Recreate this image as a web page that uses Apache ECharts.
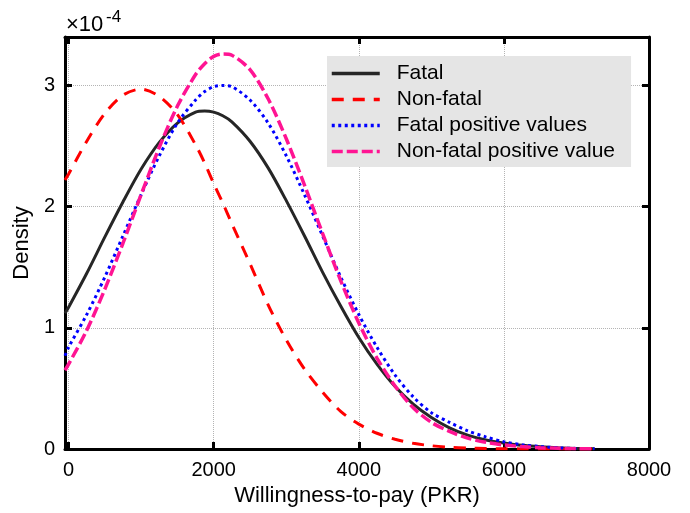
<!DOCTYPE html>
<html>
<head>
<meta charset="utf-8">
<script src="https://cdn.jsdelivr.net/npm/echarts@6/dist/echarts.min.js"></script>
<style>
  html, body { margin: 0; padding: 0; background: #fff; }
  #chart { width: 690px; height: 513px; }
</style>
</head>
<body>
<div id="chart"></div>
<script>
// willingness-to-pay (PKR) sample points
const wtp = [-50, 0, 250, 500, 750, 1000, 1250, 1500, 1750, 1875, 2000, 2125, 2250, 2500, 2750, 3000, 3250,
  3500, 3750, 4000, 4250, 4500, 4750, 5000, 5250, 5500, 5750, 6000, 6250, 6500, 6750, 7000, 7250];

// density values, in units of 1e-4
const fatal = [1.12, 1.17, 1.45, 1.75, 2.04, 2.31, 2.53, 2.69, 2.78, 2.79, 2.78, 2.75, 2.70, 2.54, 2.32, 2.05, 1.76,
  1.46, 1.18, 0.92, 0.70, 0.515, 0.37, 0.26, 0.175, 0.115, 0.075, 0.05, 0.03, 0.018, 0.01, 0.005, 0.002];
const nonFatal = [2.22, 2.27, 2.54, 2.77, 2.92, 2.97, 2.91, 2.76, 2.51, 2.36, 2.19, 2.03, 1.86, 1.53, 1.19, 0.90, 0.66,
  0.47, 0.31, 0.205, 0.13, 0.08, 0.047, 0.027, 0.015, 0.008, 0.004, 0.002, 0.001, 0.0005, 0, 0, 0];
const fatalPos = [0.77, 0.84, 1.11, 1.42, 1.76, 2.10, 2.42, 2.69, 2.88, 2.95, 2.99, 3.00, 2.99, 2.88, 2.69, 2.42, 2.10,
  1.76, 1.42, 1.11, 0.84, 0.61, 0.43, 0.30, 0.22, 0.15, 0.10, 0.06, 0.035, 0.02, 0.01, 0.005, 0.002];
const nonFatalPos = [0.65, 0.70, 0.98, 1.32, 1.70, 2.10, 2.49, 2.83, 3.09, 3.18, 3.24, 3.26, 3.25, 3.13, 2.89, 2.56, 2.18,
  1.78, 1.39, 1.04, 0.75, 0.52, 0.34, 0.22, 0.145, 0.09, 0.055, 0.033, 0.02, 0.011, 0.006, 0.003, 0.001];

const seriesNames = ['Fatal', 'Non-fatal', 'Fatal positive values', 'Non-fatal positive value'];
const xTicks = [0, 2000, 4000, 6000, 8000];
const yTicks = [0, 1, 2, 3];

const font = 'Liberation Sans, Arial, Helvetica, sans-serif';
const pairs = (ys) => wtp.map((x, i) => [x, ys[i]]);

const chart = echarts.init(document.getElementById('chart'));

const frameAxis = {
  axisLine: { show: true, onZero: false, lineStyle: { color: '#000', width: 3 } },
  axisTick: { show: true, inside: true, length: 7, lineStyle: { color: '#000', width: 3 } }
};

const option = {
  animation: false,
  backgroundColor: '#fff',
  grid: { left: 65, right: 41, top: 37, bottom: 64, containLabel: false },
  legend: {
    orient: 'vertical',
    left: 327,
    top: 56,
    padding: [7, 16, 5, 3],
    backgroundColor: '#e5e5e5',
    itemWidth: 48,
    itemHeight: 19,
    itemGap: 5,
    itemStyle: { opacity: 0 },
    lineStyle: { width: 3.5 },
    data: seriesNames,
    textStyle: { fontFamily: font, fontSize: 21, color: '#000', padding: [0, 0, 0, 12] }
  },
  graphic: [
    { type: 'text', left: 66, top: 14, style: { text: '×10', font: '22px ' + font, fill: '#000' } },
    { type: 'text', left: 106, top: 9, style: { text: '-4', font: '17px ' + font, fill: '#000' } }
  ],
  xAxis: [
    Object.assign({}, frameAxis, {
      type: 'value',
      min: -50,
      max: 8000,
      splitNumber: 4,
      name: 'Willingness-to-pay (PKR)',
      nameLocation: 'middle',
      nameGap: 35,
      nameTextStyle: { fontFamily: font, fontSize: 22, color: '#000' },
      axisLabel: {
        margin: 11,
        fontFamily: font, fontSize: 20, color: '#000',
        formatter: (v) => (xTicks.indexOf(v) >= 0 ? String(v) : '')
      },
      splitLine: { show: true, lineStyle: { color: '#b4b4b4', width: 1, type: [1, 1] } }
    }),
    Object.assign({}, frameAxis, {
      type: 'value', position: 'top', min: -50, max: 8000, splitNumber: 4,
      axisLabel: { show: false }, splitLine: { show: false }
    })
  ],
  yAxis: [
    Object.assign({}, frameAxis, {
      type: 'value',
      min: 0,
      max: 3.4,
      interval: 1,
      name: 'Density',
      nameLocation: 'middle',
      nameGap: 30,
      nameTextStyle: { fontFamily: font, fontSize: 22, color: '#000' },
      axisLabel: {
        margin: 10,
        fontFamily: font, fontSize: 20, color: '#000',
        formatter: (v) => (yTicks.indexOf(v) >= 0 ? String(v) : '')
      },
      splitLine: { show: true, lineStyle: { color: '#b4b4b4', width: 1, type: [1, 1] } }
    }),
    Object.assign({}, frameAxis, {
      type: 'value', position: 'right', min: 0, max: 3.4, interval: 1,
      axisLabel: { show: false }, splitLine: { show: false }
    })
  ],
  series: [
    {
      name: seriesNames[0], type: 'line', data: pairs(fatal), smooth: 0.3,
      symbol: 'none', lineStyle: { color: '#262626', width: 3, type: 'solid' },
      itemStyle: { color: '#262626' }
    },
    {
      name: seriesNames[1], type: 'line', data: pairs(nonFatal), smooth: 0.3,
      symbol: 'none', lineStyle: { color: '#ff0000', width: 3, type: [12, 9] },
      itemStyle: { color: '#ff0000' }
    },
    {
      name: seriesNames[2], type: 'line', data: pairs(fatalPos), smooth: 0.3,
      symbol: 'none', lineStyle: { color: '#0000ff', width: 3, type: [3, 3.5] },
      itemStyle: { color: '#0000ff' }
    },
    {
      name: seriesNames[3], type: 'line', data: pairs(nonFatalPos), smooth: 0.3,
      symbol: 'none', lineStyle: { color: '#ff1493', width: 3.5, type: [11, 4] },
      itemStyle: { color: '#ff1493' }
    }
  ]
};

chart.setOption(option);
</script>
</body>
</html>
